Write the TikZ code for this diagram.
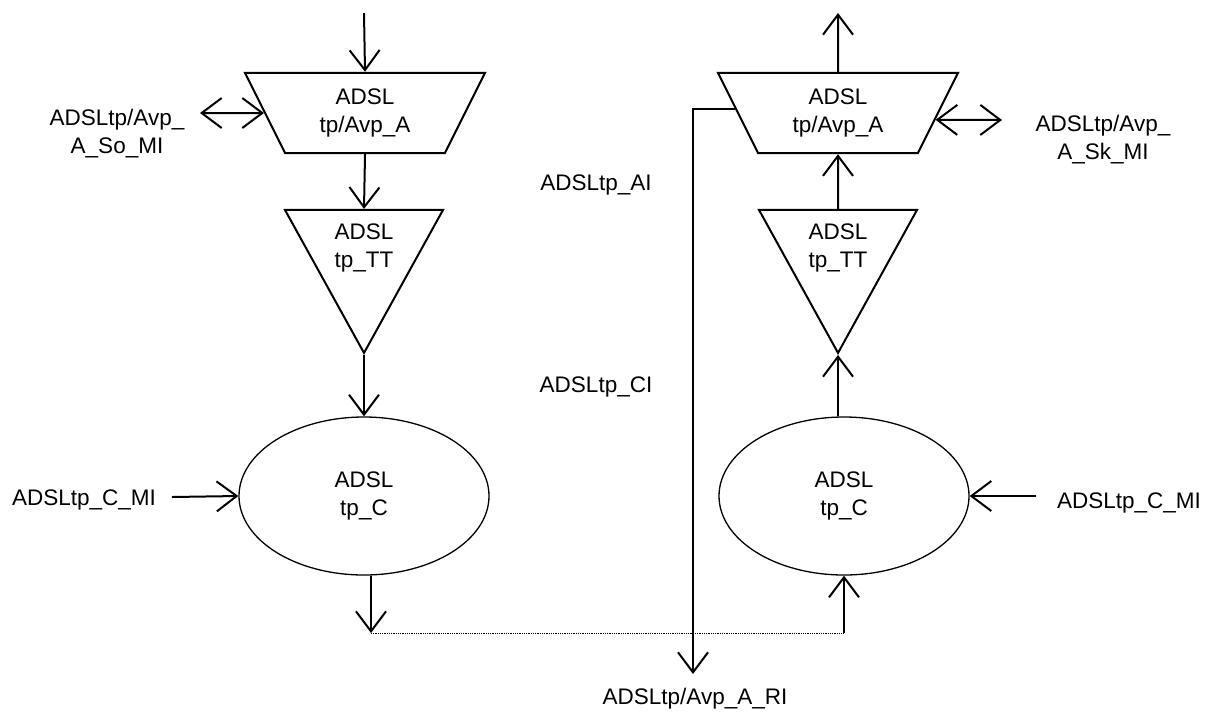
\documentclass[tikz,border=0pt]{standalone}
\usepackage{fontspec}
\setmainfont{Liberation Sans}
\usetikzlibrary{arrows.meta,shapes.geometric,positioning}

\begin{document}
\begin{tikzpicture}[x=1pt,y=-1pt,>={Straight Barb[length=20pt,width=30pt]},
    every node/.style={font=\fontsize{22.5}{28}\selectfont,align=center,inner sep=0pt},
    link/.style={line width=2pt},
    adapt/.style={trapezium,draw,line width=2pt,trapezium angle=63.43,
      shape border rotate=180,minimum width=240pt,minimum height=79pt,
      inner ysep=16pt,trapezium stretches body},
    term/.style={isosceles triangle,draw,line width=2pt,shape border rotate=-90,
      isosceles triangle apex angle=57.8,isosceles triangle stretches,
      minimum width=158pt,minimum height=143pt},
    conn/.style={ellipse,draw,line width=1.3pt,minimum width=250pt,minimum height=158pt}]
  \useasboundingbox (0,0) rectangle (1206,713);
  \node[adapt] (apSo) at (365,113) {ADSL\\tp/Avp\_A};
  \node[term,anchor=apex] (ttSo) at (364,355) {ADSL\\tp\_TT};
  \node[conn] (cSo) at (364,496) {ADSL\\tp\_C};
  \node[adapt] (apSk) at (838,113) {ADSL\\tp/Avp\_A};
  \node[term,anchor=apex] (ttSk) at (838,355) {ADSL\\tp\_TT};
  \node[conn] (cSk) at (844,496) {ADSL\\tp\_C};
  \node (soMI) at (117,134) {ADSLtp/Avp\_\\A\_So\_MI};
  \node (skMI) at (1103,140) {ADSLtp/Avp\_\\A\_Sk\_MI};
  \node (cMIso) at (84,500) {ADSLtp\_C\_MI};
  \node (cMIsk) at (1129,503) {ADSLtp\_C\_MI};
  \node (ai) at (596,185) {ADSLtp\_AI};
  \node (ci) at (596,387) {ADSLtp\_CI};
  \node (ri) at (695,699) {ADSLtp/Avp\_A\_RI};
  \coordinate (inSo) at (364,13);
  \coordinate (outSk) at (838,13);
  \coordinate (soEnd) at (200,113);
  \coordinate (skEnd) at (1002,120);
  \coordinate (cSoEnd) at (172,497);
  \coordinate (cSkEnd) at (1036,496);
  \coordinate (dSo) at (371,633);
  \coordinate (dSk) at (844,633);
  \coordinate (riEnd) at (693,674);
  \draw[link,->] (inSo) -- (apSo.north);
  \draw[link,->] (apSo.south) -- (ttSo.north);
  \draw[link,->] (ttSo.apex) -- (cSo.north);
  \draw[link,<->] (soEnd) -- (apSo.west);
  \draw[link,->] (cSoEnd) -- (cSo.west);
  \draw[link,->] (cSo.south -| dSo) -- (dSo);
  \draw[densely dotted,line width=0.8pt] (dSo) -- (dSk);
  \draw[link,->] (dSk) -- (cSk.south);
  \draw[link,->] (ttSk.apex |- cSk.north) -- (ttSk.apex);
  \draw[link,->] (ttSk.north) -- (apSk.south);
  \draw[link,->] (apSk.north) -- (outSk);
  \draw[link,<->] (apSk.-4) -- (skEnd);
  \draw[link,->] (apSk.178.5) -| (riEnd);
  \draw[link,->] (cSkEnd) -- (cSk.east);
\end{tikzpicture}
\end{document}
